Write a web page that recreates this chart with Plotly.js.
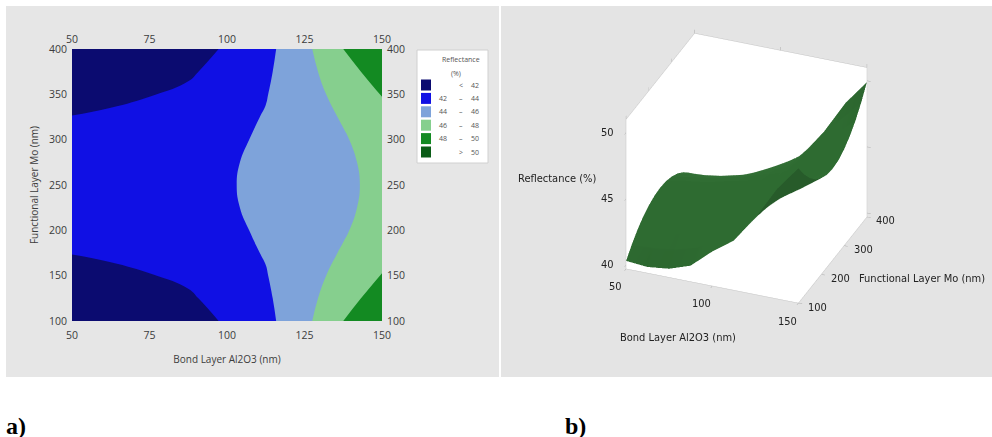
<!DOCTYPE html>
<html><head><meta charset="utf-8">
<script src="https://cdn.plot.ly/plotly-3.0.1.min.js"></script>
<style>
body{margin:0;background:#fff;width:992px;height:437px;overflow:hidden;position:relative}
#a{position:absolute;left:6px;top:6px;width:493px;height:371px}
#b{position:absolute;left:501px;top:6px;width:491px;height:371px}
.lab{position:absolute;font-family:'Liberation Serif','Times New Roman',serif;font-weight:bold;font-size:24px;line-height:24px;top:414px}
</style></head><body>
<div id="a"></div><div id="b"></div>
<div class="lab" style="left:6px">a)</div>
<div class="lab" style="left:565px">b)</div>
<script>
// ---- data ----
const bondLayer = [50, 62.5, 75, 87.5, 100, 112.5, 125, 137.5, 150];           // Bond Layer Al2O3 (nm)
const functionalLayer = [100,125,150,175,200,225,250,275,300,325,350,375,400]; // Functional Layer Mo (nm)
const reflectance = [
  [40.30,40.16,40.35,40.91,42.30,43.45,45.50,48.00,49.90],
  [41.00,41.00,41.22,41.72,42.79,43.71,45.33,47.25,48.89],
  [41.58,41.68,41.93,42.38,43.19,43.92,45.19,46.64,48.07],
  [42.03,42.22,42.49,42.89,43.50,44.09,45.09,46.16,47.43],
  [42.34,42.60,42.88,43.26,43.72,44.21,45.01,45.82,46.97],
  [42.54,42.82,43.12,43.48,43.86,44.28,44.97,45.62,46.69],
  [42.60,42.90,43.20,43.55,43.90,44.30,44.95,45.55,46.60],
  [42.54,42.82,43.12,43.48,43.86,44.28,44.97,45.62,46.69],
  [42.34,42.60,42.88,43.26,43.72,44.21,45.01,45.82,46.97],
  [42.03,42.22,42.49,42.89,43.50,44.09,45.09,46.16,47.43],
  [41.58,41.68,41.93,42.38,43.19,43.92,45.19,46.64,48.07],
  [41.00,41.00,41.22,41.72,42.79,43.71,45.33,47.25,48.89],
  [40.30,40.16,40.35,40.91,42.30,43.45,45.50,48.00,49.90]
];
const levelStart = 42, levelEnd = 50, levelStep = 2;
const bandColors = ['#0b0b70','#1010e4','#7ea3da','#86cf8e','#138a22','#0b5c17'];
const bandLow  = ['',   '42','44','46','48',''];
const bandSep  = ['<',  '–', '–', '–', '–', '>'];
const bandHigh = ['42', '44','46','48','50','50'];
const legendTitle = ['Reflectance','(%)'];
const xTicks = [50,75,100,125,150];
const yTicks = [100,150,200,250,300,350,400];
const xTicks3 = [50,100,150];
const yTicks3 = [100,200,300,400];
const zTicks3 = [40,45,50];
const zRange3 = [39.7, 51];
const xTitle = 'Bond Layer Al2O3 (nm)';
const yTitle = 'Functional Layer Mo (nm)';
const zTitle = 'Reflectance (%)';

// ---- panel a: contour ----
const W = 493, H = 371, M = {l:66, r:117, t:43, b:56};
const pw = W - M.l - M.r, ph = H - M.t - M.b;
const px = v => (v - M.l) / pw;
const py = v => 1 - (v - M.t) / ph;
const tickFont = {family:'Open Sans, sans-serif', size:10.5, color:'#3c3c3c'};
const cs = bandColors.map((c,i)=>[i/(bandColors.length-1), c]);

const traceA = {
  type:'contour', x:bondLayer, y:functionalLayer, z:reflectance,
  contours:{start:levelStart, end:levelEnd, size:levelStep, coloring:'fill', showlines:false},
  line:{smoothing:1.3, width:0}, colorscale:cs, showscale:false, hoverinfo:'skip'
};
const dummy = {type:'scatter', x:[], y:[], xaxis:'x2', yaxis:'y2', hoverinfo:'skip', showlegend:false};

const shapes = [{type:'rect', xref:'paper', yref:'paper', x0:px(411), x1:px(482), y0:py(157), y1:py(44),
  fillcolor:'#ffffff', line:{color:'#d0d0d0', width:1}}];
const ann = [];
const lf = {size:7, color:'#555', family:'Open Sans, sans-serif'};
ann.push({xref:'paper',yref:'paper',x:px(455),y:py(54),text:legendTitle[0],showarrow:false,font:lf,xanchor:'center',yanchor:'middle'});
ann.push({xref:'paper',yref:'paper',x:px(450),y:py(67),text:legendTitle[1],showarrow:false,font:lf,xanchor:'center',yanchor:'middle'});
bandColors.forEach((c,i)=>{
  const cy = 79 + i*13.4;
  shapes.push({type:'rect', xref:'paper', yref:'paper', x0:px(415), x1:px(425), y0:py(cy+5.5), y1:py(cy-5.5), fillcolor:c, line:{width:0}});
  if (bandLow[i]) ann.push({xref:'paper',yref:'paper',x:px(437),y:py(cy),text:bandLow[i],showarrow:false,font:lf,xanchor:'center',yanchor:'middle'});
  ann.push({xref:'paper',yref:'paper',x:px(455),y:py(cy),text:bandSep[i],showarrow:false,font:lf,xanchor:'center',yanchor:'middle'});
  ann.push({xref:'paper',yref:'paper',x:px(469),y:py(cy),text:bandHigh[i],showarrow:false,font:lf,xanchor:'center',yanchor:'middle'});
});

const axBase = {showgrid:false, zeroline:false, showline:false, ticks:'outside', tickcolor:'rgba(0,0,0,0)', tickfont:tickFont, fixedrange:true};
const layoutA = {
  width:W, height:H, margin:M, paper_bgcolor:'#e6e6e6', plot_bgcolor:'#e6e6e6', showlegend:false,
  font:{family:'Open Sans, sans-serif', color:'#3c3c3c'},
  xaxis:Object.assign({}, axBase, {range:[50,150], tickvals:xTicks, ticklen:4,
      title:{text:xTitle, font:{size:10, color:'#3c3c3c'}, standoff:15}}),
  yaxis:Object.assign({}, axBase, {range:[100,400], tickvals:yTicks, ticklen:2,
      title:{text:yTitle, font:{size:10, color:'#3c3c3c'}, standoff:8}}),
  xaxis2:Object.assign({}, axBase, {range:[50,150], tickvals:xTicks, ticklen:1, overlaying:'x', side:'top'}),
  yaxis2:Object.assign({}, axBase, {range:[100,400], tickvals:yTicks, ticklen:2, overlaying:'y', side:'right'}),
  shapes:shapes, annotations:ann
};
Plotly.newPlot('a', [traceA, dummy], layoutA, {displayModeBar:false, staticPlot:true});

// ---- panel b: 3D surface ----
const font3 = {family:'DejaVu Sans Condensed, Liberation Sans Narrow, sans-serif', size:11, color:'#222'};
const ax3 = {showgrid:false, zeroline:false, showbackground:true, backgroundcolor:'#ffffff',
  showline:true, linecolor:'#c4c4c4', linewidth:1, mirror:'all', ticks:'outside', tickcolor:'#aaa', ticklen:4,
  showticklabels:false, title:{text:''}, showspikes:false};
const traceB = {
  type:'surface', x:bondLayer, y:functionalLayer, z:reflectance,
  colorscale:[[0,'#2e6b31'],[1,'#2e6b31']], showscale:false, hoverinfo:'skip',
  lighting:{ambient:0.85, diffuse:0.3, specular:0.05, roughness:0.9}
};
const x0 = bondLayer[0], yF = functionalLayer[0], z0 = zRange3[0];
const xEnd = bondLayer[bondLayer.length-1];
const ann3 = [];
zTicks3.forEach(v=>ann3.push({x:x0, y:yF, z:v, text:String(v), showarrow:false, font:font3, xanchor:'right', yanchor:'middle', xshift:-10}));
xTicks3.forEach(v=>ann3.push({x:v, y:yF, z:z0, text:String(v), showarrow:false, font:font3, xanchor:'center', yanchor:'middle', xshift:-11, yshift:-18}));
yTicks3.forEach(v=>ann3.push({x:xEnd, y:v, z:z0, text:String(v), showarrow:false, font:font3, xanchor:'center', yanchor:'middle', xshift:19, yshift:-4}));
ann3.push({x:x0, y:yF, z:46.5, text:zTitle, showarrow:false, font:font3, xanchor:'right', yanchor:'middle', xshift:-28});
ann3.push({x:80, y:yF, z:z0, text:xTitle, showarrow:false, font:font3, xanchor:'center', yanchor:'middle', yshift:-58});
ann3.push({x:xEnd, y:200, z:z0, text:yTitle, showarrow:false, font:font3, xanchor:'left', yanchor:'middle', xshift:36, yshift:-4});

const dz = 0.145;
const layoutB = {
  width:491, height:371, margin:{l:0,r:0,t:0,b:0}, paper_bgcolor:'#e4e4e4',
  font:font3,
  scene:{
    domain:{x:[0,1], y:[0,1]},
    aspectmode:'manual', aspectratio:{x:1, y:1, z:0.93},
    camera:{eye:{x:0.64, y:-1.61, z:1.0-dz}, up:{x:0,y:0,z:1}, center:{x:0,y:0,z:-dz}, projection:{type:'orthographic'}},
    xaxis:Object.assign({}, ax3, {range:[50,150], tickvals:xTicks3}),
    yaxis:Object.assign({}, ax3, {range:[100,400], tickvals:yTicks3}),
    zaxis:Object.assign({}, ax3, {range:zRange3, tickvals:zTicks3}),
    annotations:ann3
  }
};
Plotly.newPlot('b', [traceB], layoutB, {displayModeBar:false});
</script>
</body></html>
